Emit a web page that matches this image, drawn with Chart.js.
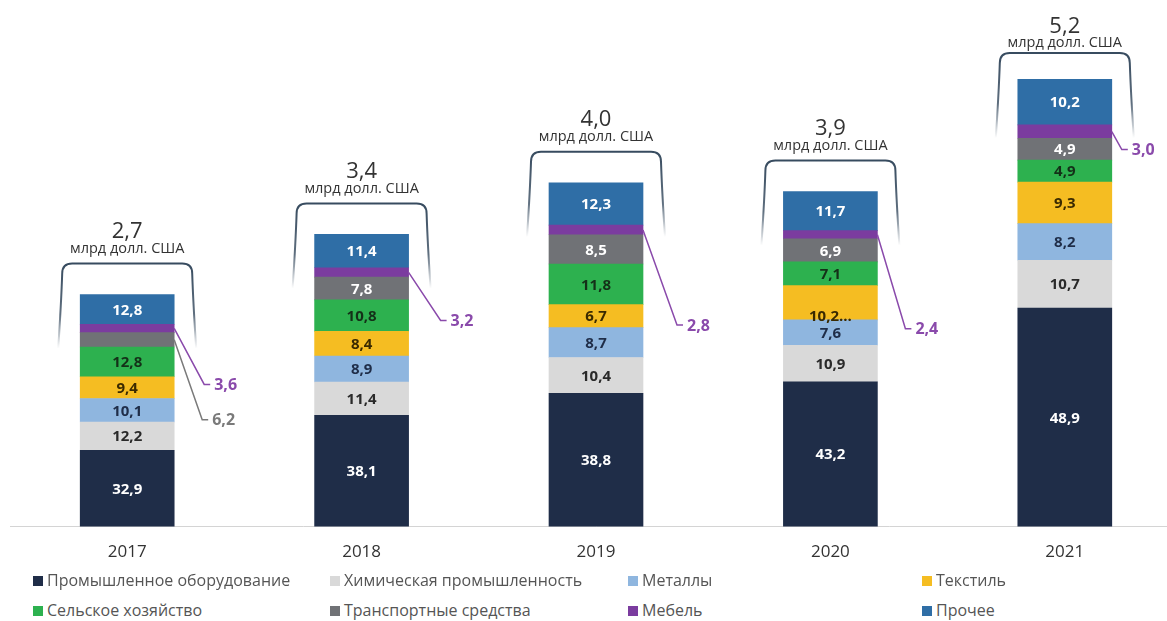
<!DOCTYPE html>
<html>
<head>
<meta charset="utf-8">
<script src="https://cdn.jsdelivr.net/npm/chart.js@4.4.1/dist/chart.umd.min.js"></script>
<style>
  html, body { margin: 0; padding: 0; background: #fff; overflow: hidden; }
  body { width: 1167px; height: 621px; position: relative; font-family: "Open Sans", sans-serif; }
  #wrap { position: absolute; left: 0; top: 0; width: 1190px; height: 588px; }
  .lg { position: absolute; font-size: 16px; color: #555; white-space: nowrap; line-height: 18px; }
  .lg i { display: inline-block; width: 10px; height: 10px; margin-right: 4px; vertical-align: 0px; }
</style>
</head>
<body>
<div id="wrap"><canvas id="chart"></canvas></div>
<div id="legend"></div>
<script>
  // years and totals (bln USD)
  const years = ["2017", "2018", "2019", "2020", "2021"];
  const totals = [2.7, 3.4, 4.0, 3.9, 5.2];

  // shares, %
  const industrial = [32.9, 38.1, 38.8, 43.2, 48.9];
  const chemical = [12.2, 11.4, 10.4, 10.9, 10.7];
  const metals = [10.1, 8.9, 8.7, 7.6, 8.2];
  const textile = [9.4, 8.4, 6.7, 10.2, 9.3];
  const agriculture = [12.8, 10.8, 11.8, 7.1, 4.9];
  const transport = [6.2, 7.8, 8.5, 6.9, 4.9];
  const furniture = [3.6, 3.2, 2.8, 2.4, 3.0];
  const other = [12.8, 11.4, 12.3, 11.7, 10.2];

  const seriesNames = [
    "Промышленное оборудование",
    "Химическая промышленность",
    "Металлы",
    "Текстиль",
    "Сельское хозяйство",
    "Транспортные средства",
    "Мебель",
    "Прочее",
  ];
  const seriesShares = [industrial, chemical, metals, textile, agriculture, transport, furniture, other];
  const colors = ["#1f2d48", "#d9d9d9", "#8fb6df", "#f5bd22", "#2db14f", "#707276", "#7b3c9f", "#2f6ea6"];
  const textColors = ["#ffffff", "#2a2a2a", "#1f2d48", "#3a2a00", "#143018", "#ffffff", "#ffffff", "#ffffff"];

  // labels drawn outside the bar: [dataset, year index, dx, dy, color]
  const callouts = [
    [6, 0, 30, 56, "#8a4aab"],
    [5, 0, 28, 80, "#7a7a7a"],
    [6, 1, 32, 48, "#8a4aab"],
    [6, 2, 34, 95, "#8a4aab"],
    [6, 3, 28, 94, "#8a4aab"],
    [6, 4, 10, 18, "#8a4aab"],
  ];

  const fmt = (v) => v.toFixed(1).replace(".", ",");

  const datasets = seriesNames.map((name, s) => ({
    label: name,
    data: seriesShares[s].map((v, i) => (v * totals[i]) / 100),
    backgroundColor: colors[s],
    barThickness: 94,
    borderWidth: 0,
  }));

  const overlayPlugin = {
    id: "overlay",
    afterDatasetsDraw(chart) {
      const ctx = chart.ctx;
      ctx.save();

      // segment labels
      chart.data.datasets.forEach((ds, s) => {
        const meta = chart.getDatasetMeta(s);
        meta.data.forEach((bar, i) => {
          if (callouts.some((c) => c[0] === s && c[1] === i)) return;
          let text = fmt(seriesShares[s][i]);
          let y = bar.y + (bar.base - bar.y) / 2;
          if (s === 3 && i === 3) {
            text = "10,2...";
            y = bar.base - 4;
          }
          ctx.font = "bold 15px 'Open Sans'";
          ctx.fillStyle = textColors[s];
          ctx.textAlign = "center";
          ctx.textBaseline = "middle";
          ctx.fillText(text, bar.x, y + 1);
        });
      });

      // callouts
      callouts.forEach(([s, i, dx, dy, col]) => {
        const bar = chart.getDatasetMeta(s).data[i];
        const x0 = bar.x + bar.width / 2;
        const y0 = bar.y + (bar.base - bar.y) / 2;
        ctx.strokeStyle = col;
        ctx.lineWidth = 1.5;
        ctx.beginPath();
        ctx.moveTo(x0, y0);
        ctx.lineTo(x0 + dx, y0 + dy);
        ctx.lineTo(x0 + dx + 6, y0 + dy);
        ctx.stroke();
        ctx.font = "bold 16px 'Open Sans'";
        ctx.fillStyle = col;
        ctx.textAlign = "left";
        ctx.textBaseline = "middle";
        ctx.fillText(fmt(seriesShares[s][i]), x0 + dx + 10, y0 + dy + 1);
      });

      // brackets and totals
      const top = chart.getDatasetMeta(chart.data.datasets.length - 1);
      top.data.forEach((bar, i) => {
        const l = bar.x - bar.width / 2 - 19;
        const r = bar.x + bar.width / 2 + 19;
        const t = Math.max(bar.y - 31, 53);
        const b = t + 85;
        const grad = ctx.createLinearGradient(0, t, 0, b);
        grad.addColorStop(0, "rgba(55,75,95,1)");
        grad.addColorStop(0.6, "rgba(55,75,95,0.8)");
        grad.addColorStop(1, "rgba(55,75,95,0)");
        ctx.strokeStyle = grad;
        ctx.lineWidth = 2;
        ctx.beginPath();
        ctx.moveTo(l - 3, b);
        ctx.quadraticCurveTo(l, t + 40, l + 1, t + 10);
        ctx.quadraticCurveTo(l + 1, t, l + 11, t);
        ctx.lineTo(r - 11, t);
        ctx.quadraticCurveTo(r - 1, t, r - 1, t + 10);
        ctx.quadraticCurveTo(r, t + 40, r + 3, b);
        ctx.stroke();

        ctx.fillStyle = "#333";
        ctx.textAlign = "center";
        ctx.textBaseline = "middle";
        ctx.font = "22px 'Open Sans'";
        ctx.fillText(fmt(totals[i]), bar.x, Math.max(bar.y - 63, 27));
        ctx.font = "14.5px 'Open Sans'";
        ctx.fillText("млрд долл. США", bar.x, Math.max(bar.y - 46, 43));
      });

      ctx.restore();
    },
  };

  new Chart(document.getElementById("chart"), {
    type: "bar",
    data: { labels: years, datasets: datasets },
    options: {
      responsive: true,
      maintainAspectRatio: false,
      animation: false,
      layout: { padding: { top: 11, left: 10, right: 8, bottom: 11 } },
      plugins: { legend: { display: false }, tooltip: { enabled: false } },
      scales: {
        x: {
          stacked: true,
          grid: { display: false, drawTicks: false },
          border: { display: true, color: "#d4d4d4", width: 1 },
          ticks: { color: "#333", font: { family: "Open Sans", size: 17 }, padding: 15 },
        },
        y: { stacked: true, display: false, min: 0, max: 6.0 },
      },
    },
    plugins: [overlayPlugin],
  });

  // legend
  const legendPos = [
    [33, 571], [330, 571], [628, 571], [922, 571],
    [33, 601], [330, 601], [628, 601], [922, 601],
  ];
  const order = [0, 1, 2, 3, 4, 5, 6, 7];
  const legend = document.getElementById("legend");
  order.forEach((s, k) => {
    const d = document.createElement("div");
    d.className = "lg";
    d.style.left = legendPos[k][0] + "px";
    d.style.top = legendPos[k][1] + "px";
    d.innerHTML = '<i style="background:' + colors[s] + '"></i>' + seriesNames[s];
    legend.appendChild(d);
  });
</script>
</body>
</html>
